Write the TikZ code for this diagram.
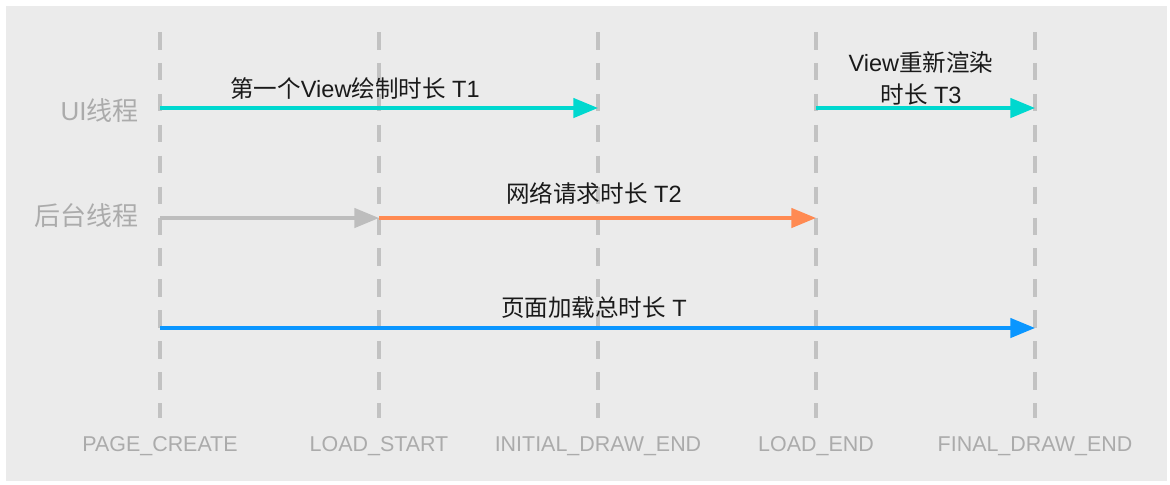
\documentclass[tikz,border=0pt]{standalone}
\usepackage{fontspec}
\setmainfont{Liberation Sans}
\newfontfamily\cjk{Noto Sans CJK SC}
\usetikzlibrary{arrows.meta}
\definecolor{bgfill}{HTML}{EBEBEB}
\definecolor{markgray}{HTML}{C2C2C2}
\definecolor{labelgray}{HTML}{ABABAB}
\definecolor{captext}{HTML}{1A1A1A}
\definecolor{uicyan}{HTML}{00D8CF}
\definecolor{netorange}{HTML}{FF8A52}
\definecolor{totalblue}{HTML}{0A96FF}
\definecolor{waitgray}{HTML}{BDBDBD}

\begin{document}
\begin{tikzpicture}[x=0.02cm, y=-0.02cm,
    marker/.style={draw=markgray, line width=2.3pt, dash pattern=on 10pt off 7.6pt},
    span/.style={line width=1.9pt, -{Triangle[length=14pt, width=11pt]}},
    thread/.style={text=labelgray, font=\fontsize{14.8}{16}\selectfont, anchor=east, inner sep=0pt},
    point/.style={text=labelgray, font=\fontsize{12.2}{14}\selectfont, inner sep=0pt},
    caption/.style={text=captext, font=\fontsize{13.4}{18.2}\selectfont, inner sep=0pt, align=center}]
    \useasboundingbox (0,0) rectangle (1170,484);
    \fill[bgfill] (6,6) rectangle (1167,481);

    % time points
    \foreach \n/\x/\t in {pc/160/PAGE\_CREATE, ls/379/LOAD\_START, ide/598/INITIAL\_DRAW\_END,
                          le/816/LOAD\_END, fde/1035/FINAL\_DRAW\_END}{
        \coordinate (\n-top) at (\x,32);
        \coordinate (\n-ui) at (\x,108);
        \coordinate (\n-bg) at (\x,218);
        \coordinate (\n-all) at (\x,328);
        \coordinate (\n-bot) at (\x,418);
        \draw[marker] (\n-top) -- (\n-bot);
        \node[point] (\n-lbl) at (\x,446) {\t};
    }

    % threads
    \node[thread] (ui) at (139,111) {UI{\cjk 线程}};
    \node[thread] (bg) at (139,216) {\cjk 后台线程};

    % spans
    \draw[span, uicyan] (pc-ui) -- (ide-ui);
    \draw[span, uicyan] (le-ui) -- (fde-ui);
    \draw[span, waitgray] (pc-bg) -- (ls-bg);
    \draw[span, netorange] (ls-bg) -- (le-bg);
    \draw[span, totalblue] (pc-all) -- (fde-all);

    \node[caption] (t1) at (355,89) {{\cjk 第一个}View{\cjk 绘制时长} T1};
    \node[caption] (t3) at (921,78) {View{\cjk 重新渲染}\\{\cjk 时长} T3};
    \node[caption] (t2) at (594,193) {{\cjk 网络请求时长} T2};
    \node[caption] (t) at (594,308) {{\cjk 页面加载总时长} T};
\end{tikzpicture}
\end{document}
